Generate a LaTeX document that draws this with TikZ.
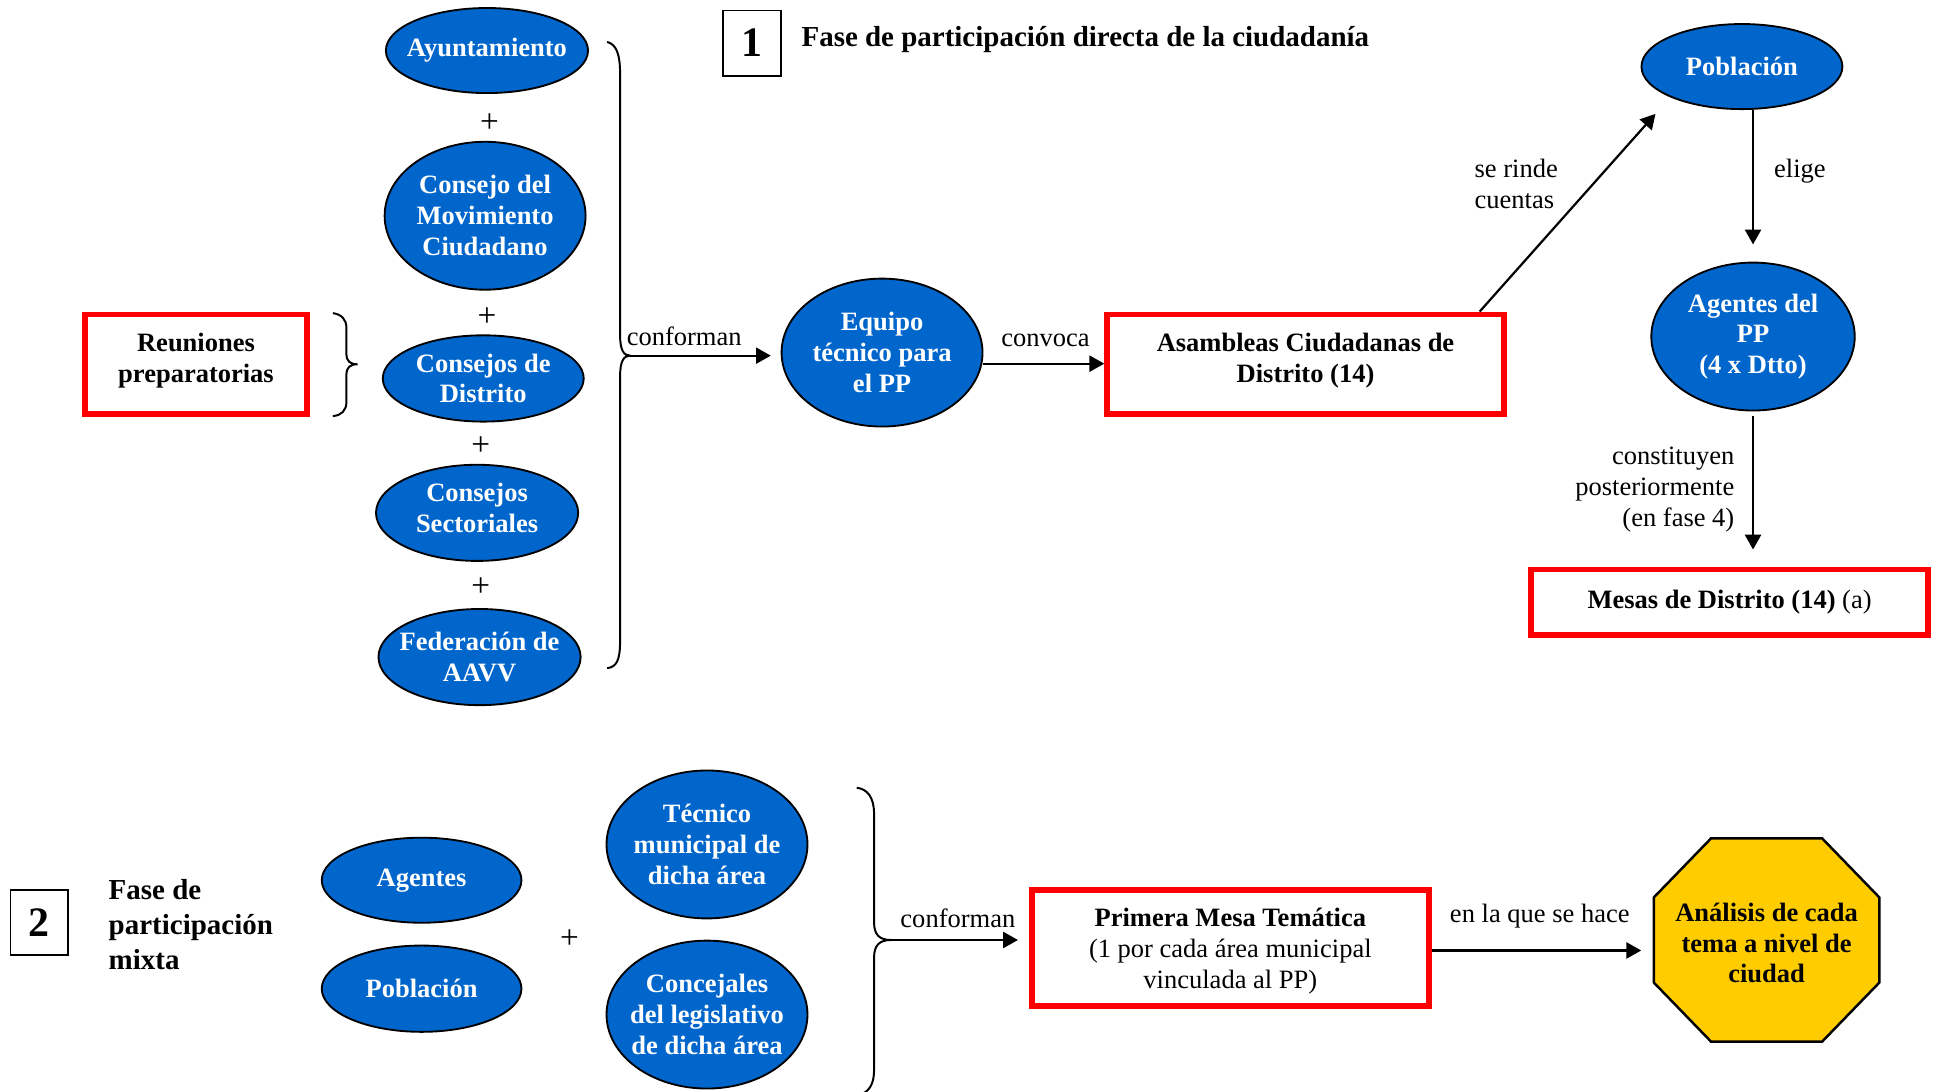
\documentclass[tikz,border=0pt]{standalone}
\usepackage{fontspec}
\setmainfont{Liberation Serif}
\usetikzlibrary{shapes.geometric,arrows.meta,calc}

\definecolor{ovalblue}{HTML}{0066CC}
\definecolor{octgold}{HTML}{FFCC00}
\definecolor{boxred}{HTML}{FF0000}

\newcommand\basefont{\fontsize{21.5}{25}\selectfont}
\newcommand\headfont{\fontsize{23.5}{28}\selectfont\bfseries}
\newcommand\numfont{\fontsize{34}{38}\selectfont\bfseries}

\tikzset{
  oval/.style={ellipse, draw=black, line width=1.5pt, fill=ovalblue,
    text=white, font=\basefont\bfseries, align=center, inner sep=-10pt},
  redbox/.style={rectangle, draw=boxred, line width=4.5pt, fill=white,
    align=center, font=\basefont, inner sep=0pt},
  numbox/.style={rectangle, draw=black, line width=1.5pt, font=\numfont,
    minimum width=47pt, minimum height=53pt, inner sep=0pt},
  lbl/.style={font=\basefont, inner sep=0pt},
  plus/.style={font=\fontsize{27}{30}\selectfont, inner sep=0pt},
  arr/.style={line width=1.8pt, -{Triangle[length=12pt,width=13pt]}},
  bracepath/.style={line width=1.6pt}
}

\begin{document}
\begin{tikzpicture}[x=1pt, y=-1pt]
\useasboundingbox (0,0) rectangle (1568,885);
\fill[white] (0,0) rectangle (1568,885);

% ---------- Phase 1 heading ----------
\node[numbox] (n1) at (610,35) {1};
\node[font=\headfont, anchor=west, inner sep=0pt] (t1) at (650,32)
  {Fase de participación directa de la ciudadanía};

% ---------- members forming the technical team ----------
\node[oval, minimum width=164pt, minimum height=69pt]  (ayun) at (395,41) {Ayuntamiento};
\node[plus] (p1) at (397,100) {+};
\node[oval, minimum width=163pt, minimum height=120pt] (cmc)  at (393.5,175) {Consejo del\\Movimiento\\Ciudadano};
\node[plus] (p2) at (395,257) {+};
\node[oval, minimum width=163pt, minimum height=70pt]  (cdis) at (392,307) {Consejos de\\Distrito};
\node[plus] (p3) at (390,362) {+};
\node[oval, minimum width=164pt, minimum height=78pt, text depth=8pt]  (csec) at (387,416) {Consejos\\Sectoriales};
\node[plus] (p4) at (390,476) {+};
\node[oval, minimum width=164pt, minimum height=78pt, text depth=0pt]  (fed)  at (389,533) {Federación de\\AAVV};

% preparatory meetings
\node[redbox, minimum width=180pt, minimum height=81pt, font=\basefont\bfseries, text depth=11pt] (reun) at (159,295.5)
  {Reuniones\\preparatorias};
\draw[bracepath] (270,254) .. controls (277,255) and (281,259) .. (281,266) -- (281,287)
  .. controls (281,293) and (284,295.5) .. (290,295.5)
  .. controls (284,295.5) and (281,298) .. (281,304) -- (281,326)
  .. controls (281,333) and (277,337) .. (270,337.5);

% large brace grouping the five members
\draw[bracepath] (492.5,34) .. controls (500,36) and (503,44) .. (503,60) -- (503,272)
  .. controls (503,284) and (506,288.5) .. (511,288.5)
  .. controls (506,288.5) and (503,293) .. (503,305) -- (503,520)
  .. controls (503,536) and (500,541) .. (492.5,542);
\coordinate (tipA) at (511,288.5);

% ---------- main chain of phase 1 ----------
\node[oval, minimum width=163pt, minimum height=120pt] (equipo) at (715.5,286) {Equipo\\técnico para\\el PP};
\node[redbox, minimum width=322pt, minimum height=81pt, font=\basefont\bfseries, text depth=11pt] (asam) at (1059,295.5)
  {Asambleas Ciudadanas de\\Distrito (14)};
\node[oval, minimum width=163pt, minimum height=69pt]  (pob)  at (1413,54) {Población};
\node[oval, minimum width=165pt, minimum height=120pt] (agen) at (1422,273) {Agentes del\\PP\\(4 x Dtto)};
\node[redbox, minimum width=322pt, minimum height=53pt] (mesas) at (1403,488.5)
  {\textbf{Mesas de Distrito (14)} (a)};

\draw[arr, shorten >=8pt] (tipA) -- (tipA -| equipo.west);
\node[lbl] (lconf1) at (555,273) {conforman};

\draw[arr] ([yshift=-9pt]equipo.east) -- ([yshift=-9pt]equipo.east -| asam.west);
\node[lbl] (lconv) at (848,276) {convoca};

\draw[arr, shorten >=18pt] ([xshift=-22pt]asam.north east) -- (pob.south west);
\node[lbl, anchor=west, align=left] (lrind) at (1196,149.5) {se rinde\\cuentas};

\draw[arr] (agen.north |- pob.south) -- ([yshift=14pt]agen.north);
\node[lbl] (lelig) at (1460,139) {elige};

\draw[arr] ([yshift=-4pt]agen.south) -- ([yshift=14pt]agen.south |- mesas.north);
\node[lbl, anchor=east, align=right] (lcons) at (1407,397)
  {constituyen\\posteriormente\\(en fase 4)};

% ---------- Phase 2 ----------
\node[numbox] (n2) at (32,748.5) {2};
\node[font=\headfont, anchor=west, align=left, inner sep=0pt] (t2) at (88,750)
  {Fase de\\participación\\mixta};

\node[oval, minimum width=162pt, minimum height=69pt]  (ag2)  at (342,714) {Agentes};
\node[oval, minimum width=162pt, minimum height=70pt]  (pob2) at (342,802) {Población};
\node[plus] (p5) at (462,762) {+};
\node[oval, minimum width=163pt, minimum height=120pt] (tec)  at (573.5,685) {Técnico\\municipal de\\dicha área};
\node[oval, minimum width=163pt, minimum height=120pt] (conc) at (573.5,823) {Concejales\\del legislativo\\de dicha área};

\draw[bracepath] (695,639) .. controls (703,640) and (709,646) .. (709,660) -- (709,748)
  .. controls (709,758) and (713,762.5) .. (723,762.5)
  .. controls (713,762.5) and (709,767) .. (709,777) -- (709,868)
  .. controls (709,878) and (706,884) .. (700,887);
\coordinate (tipB) at (723,762.5);

\node[redbox, minimum width=322pt, minimum height=94pt, text depth=0pt] (prim) at (998,769)
  {\textbf{Primera Mesa Temática}\\(1 por cada área municipal\\vinculada al PP)};

% city-level analysis octagon
\draw[line width=2pt, fill=octgold] (1388,680) -- (1478,680) -- (1524.5,728) -- (1524.5,797)
  -- (1478,845) -- (1388,845) -- (1341.5,797) -- (1341.5,728) -- cycle;
\node[font=\basefont\bfseries, align=center, inner sep=0pt,
  minimum width=183pt, minimum height=165pt] (anal) at (1433,765)
  {Análisis de cada\\tema a nivel de\\ciudad};

\draw[arr, shorten >=9pt] (tipB) -- (tipB -| prim.west);
\node[lbl] (lconf2) at (777,745) {conforman};

\draw[arr, shorten >=10pt] ([yshift=-2pt]prim.east) -- ([yshift=-2pt]prim.east -| anal.west);
\node[lbl] (lhace) at (1249,743) {en la que se hace};

\end{tikzpicture}
\end{document}
